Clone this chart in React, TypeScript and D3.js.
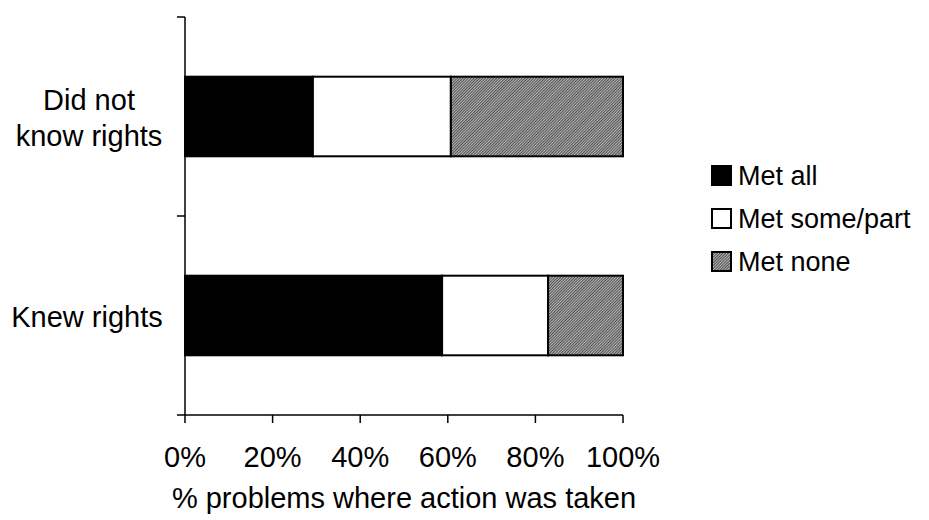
import React from "react";
import * as d3 from "d3";

const categories = ["Did not know rights", "Knew rights"];
const categoryLines = [["Did not", "know rights"], ["Knew rights"]];
const seriesNames = ["Met all", "Met some/part", "Met none"];
const metAll = [29.2, 58.7];
const metSome = [31.5, 24.2];
const metNone = [39.3, 17.1];
const xTicks = [0, 20, 40, 60, 80, 100];
const xTitle = "% problems where action was taken";

const W = 929;
const H = 520;
const m = { left: 185, right: 623, top: 17, bottom: 415 };

export default function App() {
  const x = d3.scaleLinear().domain([0, 100]).range([m.left, m.right]);
  const y = d3
    .scaleBand<string>()
    .domain(categories)
    .range([m.top, m.bottom])
    .paddingInner(0.6)
    .paddingOuter(0.3);
  const series = [metAll, metSome, metNone];
  const fills = ["#000", "#fff", "url(#hatch)"];
  const stacked = categories.map((c, i) => {
    let acc = 0;
    return series.map((s, k) => {
      const x0 = acc;
      acc += s[i];
      return { k, x0, x1: acc };
    });
  });
  const font = "Liberation Sans, Arial, sans-serif";
  const fs = 29;
  const bandStep = (m.bottom - m.top) / categories.length;
  return (
    <svg width={W} height={H} style={{ position: "absolute", left: 0, top: 0 }} fontFamily={font}>
      <defs>
        <pattern id="hatch" width="2" height="2" patternUnits="userSpaceOnUse" patternTransform="rotate(45)">
          <rect width="2" height="2" fill="#b4b4b4" />
          <rect width="0.9" height="2" fill="#474747" />
        </pattern>
      </defs>
      <rect width={W} height={H} fill="#fff" />
      {categories.map((c, i) => (
        <g key={c}>
          {stacked[i].map((d) => (
            <rect
              key={d.k}
              x={x(d.x0)}
              y={y(c)}
              width={x(d.x1) - x(d.x0)}
              height={y.bandwidth()}
              fill={fills[d.k]}
              stroke="#000"
              strokeWidth={2}
            />
          ))}
        </g>
      ))}
      {/* y axis */}
      <line x1={m.left} x2={m.left} y1={m.top} y2={m.bottom} stroke="#000" strokeWidth={1.5} />
      {d3.range(categories.length + 1).map((i) => (
        <line key={i} x1={m.left - 8} x2={m.left} y1={m.top + i * bandStep} y2={m.top + i * bandStep} stroke="#000" strokeWidth={1.5} />
      ))}
      {/* x axis */}
      <line x1={m.left} x2={m.right} y1={m.bottom} y2={m.bottom} stroke="#000" strokeWidth={1.5} />
      {xTicks.map((t) => (
        <g key={t}>
          <line x1={x(t)} x2={x(t)} y1={m.bottom} y2={m.bottom + 8} stroke="#000" strokeWidth={1.5} />
          <text x={x(t)} y={467} textAnchor="middle" fontSize={fs}>
            {t}%
          </text>
        </g>
      ))}
      <text x={(m.left + m.right) / 2} y={508} textAnchor="middle" fontSize={fs}>
        {xTitle}
      </text>
      {categories.map((c, i) => {
        const lines = categoryLines[i];
        const cy = (y(c) as number) + y.bandwidth() / 2;
        const lh = 36;
        return (
          <text key={c} textAnchor="middle" fontSize={fs}>
            {lines.map((l, j) => (
              <tspan key={j} x={lines.length > 1 ? 89 : 87} y={cy + 11 + (j - (lines.length - 1) / 2) * lh}>
                {l}
              </tspan>
            ))}
          </text>
        );
      })}
      {/* legend */}
      {seriesNames.map((s, k) => (
        <g key={s} transform={`translate(712, ${166 + k * 43})`}>
          <rect x={0} y={0} width={19} height={19} fill={fills[k]} stroke="#000" strokeWidth={2} />
          <text x={26} y={19} fontSize={27}>
            {s}
          </text>
        </g>
      ))}
    </svg>
  );
}
